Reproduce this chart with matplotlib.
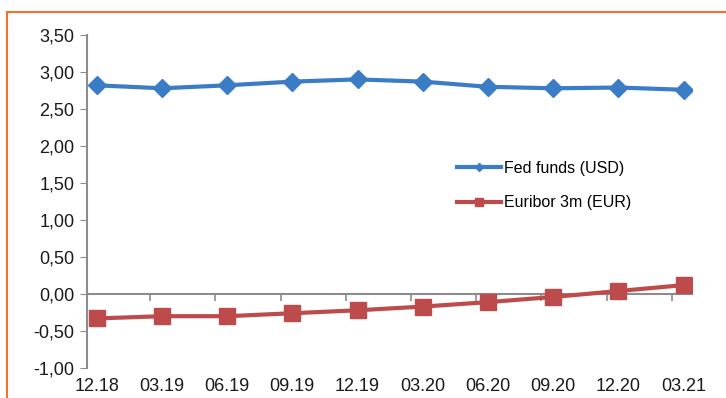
import matplotlib.pyplot as plt
from matplotlib.patches import Rectangle
from matplotlib.ticker import FuncFormatter

# data
periods = ['12.18', '03.19', '06.19', '09.19', '12.19',
           '03.20', '06.20', '09.20', '12.20', '03.21']
fed_funds = [2.82, 2.78, 2.82, 2.87, 2.90, 2.87, 2.80, 2.78, 2.79, 2.76]
euribor_3m = [-0.33, -0.30, -0.30, -0.26, -0.22, -0.17, -0.11, -0.04, 0.04, 0.12]

blue = '#3B7CC6'
red = '#BE4B4B'
grey = '#8C8C8C'

plt.rcParams['font.family'] = ['Liberation Sans', 'DejaVu Sans']

fig = plt.figure(figsize=(7.26, 3.98), dpi=100)
ax = fig.add_axes([87 / 726, 1 - 368 / 398, 605 / 726, 333 / 398])

x = list(range(len(periods)))
ax.plot(x, fed_funds, color=blue, lw=3, marker='D', ms=9,
        label='Fed funds (USD)')
ax.plot(x, euribor_3m, color=red, lw=3, marker='s', ms=11,
        label='Euribor 3m (EUR)')

ymin, ymax = -1.0, 3.5
ax.set_ylim(ymin, ymax)
ax.set_xlim(-0.15, len(periods) - 1 + 0.13)
ax.set_yticks([-1 + 0.5 * i for i in range(10)])
ax.yaxis.set_major_formatter(FuncFormatter(lambda v, p: f'{v:.2f}'.replace('.', ',')))

ax.set_xticks(x)
ax.set_xticklabels(periods)
ax.tick_params(axis='x', length=0, labelsize=13, pad=7, labelcolor='#1a1a1a')
ax.tick_params(axis='y', length=5, color=grey, labelsize=13, pad=4, labelcolor='#1a1a1a')

for s in ['top', 'right', 'bottom']:
    ax.spines[s].set_visible(False)
ax.spines['left'].set_color(grey)
ax.spines['left'].set_linewidth(1.5)

# zero line with category ticks
sec = ax.secondary_xaxis((0 - ymin) / (ymax - ymin))
sec.set_xticks([i + 0.82 for i in range(len(periods) - 1)])
sec.set_xticklabels([])
sec.tick_params(axis='x', length=5, color=grey, width=1.2, direction='out')
sec.spines['bottom'].set_color(grey)
sec.spines['bottom'].set_linewidth(1.5)

ax.legend(loc='upper left', bbox_to_anchor=(0.587, 0.665), frameon=False,
          fontsize=11.5, handlelength=2.8, handletextpad=0.2,
          labelspacing=1.2, markerscale=0.5)

# orange frame around the chart
fig.add_artist(Rectangle((7 / 726, -0.05), 1.0, 1 - 12 / 398 + 0.05,
                         transform=fig.transFigure, fill=False,
                         edgecolor='#F07431', lw=1.5, clip_on=False))

fig.savefig('out.png', dpi=100)
